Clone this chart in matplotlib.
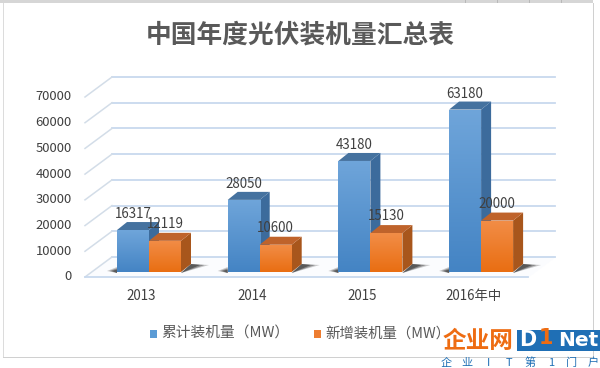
import matplotlib
matplotlib.use('Agg')
import matplotlib.pyplot as plt
from matplotlib.colors import LinearSegmentedColormap
from matplotlib.patches import Rectangle
import numpy as np

plt.rcParams['font.family'] = ['Noto Sans CJK SC', 'DejaVu Sans']

categories = ['2013', '2014', '2015', '2016年中']
total = [16317, 28050, 43180, 63180]
added = [12119, 10600, 15130, 20000]
ticks = [0, 10000, 20000, 30000, 40000, 50000, 60000, 70000]
title = '中国年度光伏装机量汇总表'
names = ['累计装机量（MW）', '新增装机量（MW）']
mark = ['企', '业', 'I', 'T', '第', '1', '门', '户']

W, H = 600, 368
PX = 1 / 110.7       # category units per pixel
PY = 70000 / 180     # value units per pixel
X0, Y0 = 149, 272    # pixel of first category / value 0 at the bar front

fig = plt.figure(figsize=(6, 3.68), dpi=100, facecolor='white')
ax = fig.add_axes([0, 0, 1, 1])
ax.axis('off')

barw = 32 * PX
dx, dy = 10 * PX, 8 * PY  # bar depth

# back wall and floor of the 3d box
fx, fy = -64 * PX, -5 * PY     # front left corner
bx, by = -37 * PX, 15 * PY     # back left corner
rx = 406 * PX                  # right end of gridlines
floor = [[fx, fy], [bx, by], [rx, by], [rx - 27 * PX, fy]]
ax.fill(*zip(*floor), color='#fbfcfe', zorder=1)
for t in ticks:
    ax.plot([bx, rx], [t + by, t + by], color='#c8d9ee', lw=1.3, zorder=2)
    ax.plot([fx, bx], [t + fy, t + by], color='#d3dde8', lw=1.1, zorder=2)
    ax.text(fx - 13 * PX, t + fy, str(t), ha='right', va='center', fontsize=9.4, color='#404040', zorder=9)
ax.plot([fx, rx - 27 * PX], [fy, fy], color='#c8d9ee', lw=1.3, zorder=2)


def gradient(c1, c2):
    return LinearSegmentedColormap.from_list('g', [c1, c2])


def bar3d(x, v, front, side, top, z):
    ax.fill([x + barw, x + barw + dx, x + barw + dx, x + barw],
            [0, dy, v + dy, v], color=side, lw=0, zorder=z)
    ax.fill([x, x + dx, x + barw + dx, x + barw],
            [v, v + dy, v + dy, v], color=top, lw=0, zorder=z)
    im = ax.imshow(np.linspace(0, 1, 64).reshape(-1, 1), cmap=gradient(*front), aspect='auto',
                   extent=[x, x + barw, 0, v], origin='upper', zorder=z + 0.1)
    im.set_clip_path(Rectangle((x, 0), barw, v, transform=ax.transData))


for i in range(len(categories)):
    # blurry floor shadow
    for k, a in zip([1.0, 0.75, 0.5], [0.25, 0.4, 0.55]):
        ax.fill([i - barw - 10 * k * PX, i - barw, i - barw],
                [1 * PY, 5 * k * PY, -1 * PY], color='#303030', alpha=a, lw=0, zorder=3)
        ax.fill([i + barw, i + barw + dx + 18 * k * PX, i + barw + dx],
                [-1 * PY, 7 * PY, 8 * PY], color='#303030', alpha=a, lw=0, zorder=3)
    bar3d(i - barw, total[i], ('#6fa5da', '#4484c4'), '#3c6b9c', '#45729f', 4)
    bar3d(i, added[i], ('#f28d47', '#e96e12'), '#a8561c', '#bf632b', 5)
    ax.text(i - barw / 2, total[i] + 16 * PY, str(total[i]), ha='center', va='center', fontsize=9.6, color='#404040', zorder=9)
    ax.text(i + barw / 2, added[i] + 17 * PY, str(added[i]), ha='center', va='center', fontsize=9.6, color='#404040', zorder=9)
    ax.text(i - 8 * PX, -24 * PY, categories[i], ha='center', va='center', fontsize=9.6, color='#404040', zorder=9)

ax.set_xlim(-X0 * PX, (W - X0) * PX)
ax.set_ylim(-(H - Y0) * PY, Y0 * PY)


def figtext(x, y, s, **kw):
    return fig.text(x / W, 1 - y / H, s, **kw)


def figrect(x, y, w, h, c, **kw):
    fig.add_artist(Rectangle((x / W, 1 - (y + h) / H), w / W, h / H, transform=fig.transFigure, color=c, lw=0, **kw))


figtext(300, 35, title, ha='center', va='center', fontsize=18.5, fontweight='bold', color='#595959')

# legend
figrect(150, 330, 7, 8, '#5b9bd5')
figtext(161, 334, names[0], ha='left', va='center', fontsize=10.6, color='#595959')
figrect(314, 330, 7, 8, '#ed7d31')
figtext(325, 334, names[1], ha='left', va='center', fontsize=10.4, color='#595959')

# spreadsheet frame around the chart
figrect(0, 0, 593, 3, '#d6d6d6')
figrect(593, 3, 1, 354, '#d0d0d0')
figrect(3, 357, 591, 1, '#d0d0d0')
figrect(3, 3, 1, 354, '#dcdcdc')
for x in [465, 497, 529, 561]:
    figrect(x, 0, 1, 3, '#b8b8b8')

# watermark
figrect(441, 332, 75, 20, 'white')
figtext(478, 341, '企业网', ha='center', va='center', fontsize=17, fontweight='bold', color='#ee6c12')
figrect(517, 330, 83, 21, '#1f6fb5')
figtext(528, 340, 'D', ha='center', va='center', fontsize=15, fontweight='bold', color='white', family=['DejaVu Sans'])
figtext(546, 338, '1', ha='center', va='center', fontsize=15, fontweight='bold', color='#ee6c12', family=['DejaVu Sans'])
figtext(578, 340, 'Net', ha='center', va='center', fontsize=14.5, fontweight='bold', color='white', family=['DejaVu Sans'])
for x, s in zip(np.arange(len(mark)), mark):
    figtext(446 + 21 * x, 363, s, ha='center', va='center', fontsize=8, color='#1f6fb5')

fig.savefig('out.png', dpi=100)
